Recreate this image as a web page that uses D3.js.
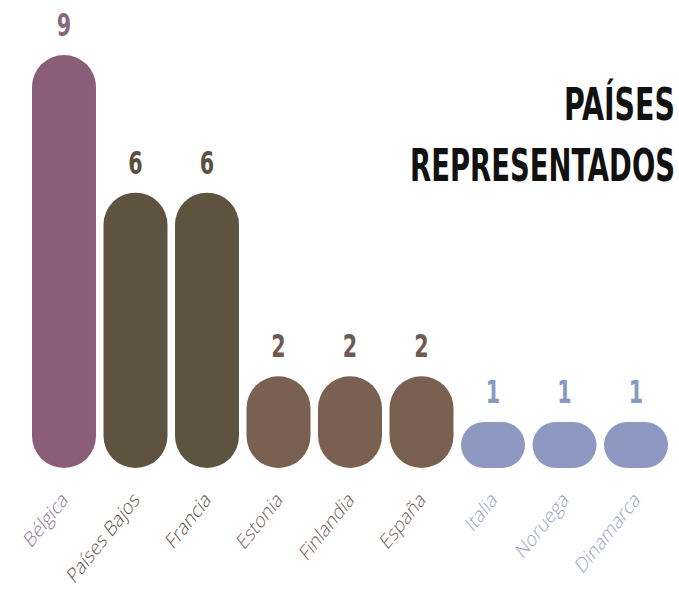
<!DOCTYPE html>
<html>
<head>
<meta charset="utf-8">
<script src="https://cdn.jsdelivr.net/npm/d3@7"></script>
<style>
  html, body { margin: 0; padding: 0; background: #ffffff; }
  svg { display: block; }
</style>
</head>
<body>
<svg id="chart" width="679" height="598"></svg>
<script>
// Countries and how many participants each one sends
const countries = ["Bélgica", "Países Bajos", "Francia", "Estonia", "Finlandia", "España", "Italia", "Noruega", "Dinamarca"];
const counts = [9, 6, 6, 2, 2, 2, 1, 1, 1];
// Colour groups per country (bar fill, label colour)
const barColors = ["#8a5e79", "#5e533f", "#5e533f", "#7a6051", "#7a6051", "#7a6051", "#8f98c1", "#8f98c1", "#8f98c1"];
const textColors = ["#9a7290", "#5c5448", "#5c5448", "#776257", "#776257", "#776257", "#9aa3ca", "#9aa3ca", "#9aa3ca"];
const valueColors = ["#8a6680", "#5a5040", "#5a5040", "#6e5a52", "#6e5a52", "#6e5a52", "#8a98c4", "#8a98c4", "#8a98c4"];
const titleLines = ["PAÍSES", "REPRESENTADOS"];

const svg = d3.select("#chart");
const baseY = 468;
const condensed = "'Liberation Sans Narrow', 'DejaVu Sans Condensed', sans-serif";

const x = d3.scaleBand()
  .domain(countries)
  .range([32, 668])
  .paddingInner(0.105)
  .paddingOuter(0);

const y = d3.scaleLinear()
  .domain([0, 9])
  .range([baseY, 55]);

const data = countries.map((c, i) => ({
  country: c, value: counts[i], fill: barColors[i], text: textColors[i], valueColor: valueColors[i]
}));

// Pill-shaped bars
svg.append("g")
  .selectAll("rect")
  .data(data)
  .join("rect")
  .attr("x", d => x(d.country))
  .attr("y", d => y(d.value))
  .attr("width", x.bandwidth())
  .attr("height", d => baseY - y(d.value))
  .attr("rx", d => Math.min(x.bandwidth(), baseY - y(d.value)) / 2)
  .attr("ry", d => Math.min(x.bandwidth(), baseY - y(d.value)) / 2)
  .attr("fill", d => d.fill);

// Value labels above each bar, in a tall condensed style
svg.append("g")
  .selectAll("text")
  .data(data)
  .join("text")
  .attr("transform", d => `translate(${x(d.country) + x.bandwidth() / 2},${y(d.value) - 19}) scale(0.82,1.15)`)
  .attr("text-anchor", "middle")
  .attr("font-family", condensed)
  .attr("font-weight", "bold")
  .attr("font-size", 28)
  .attr("fill", d => d.valueColor)
  .text(d => d.value);

// Slanted country names under the bars
svg.append("g")
  .selectAll("text")
  .data(data)
  .join("text")
  .attr("transform", d => `translate(${x(d.country) + x.bandwidth() / 2 + 5},501) scale(1,1.26) rotate(-45)`)
  .attr("text-anchor", "end")
  .attr("font-family", "'Open Sans', sans-serif")
  .attr("font-weight", 300)
  .attr("font-size", 17)
  .attr("fill", d => d.text)
  .text(d => d.country);

// Title block, right aligned and squeezed to a fixed width
const titleWidths = [111, 265];
const titleBase = [120, 181];
const titleG = svg.append("g");
titleLines.forEach((line, i) => {
  const t = titleG.append("text")
    .attr("text-anchor", "end")
    .attr("font-family", condensed)
    .attr("font-weight", "bold")
    .attr("font-size", 40)
    .attr("fill", "#111111")
    .text(line);
  const w = t.node().getComputedTextLength();
  t.attr("transform", `translate(675,${titleBase[i]}) scale(${titleWidths[i] / w},1.1)`);
});
</script>
</body>
</html>
